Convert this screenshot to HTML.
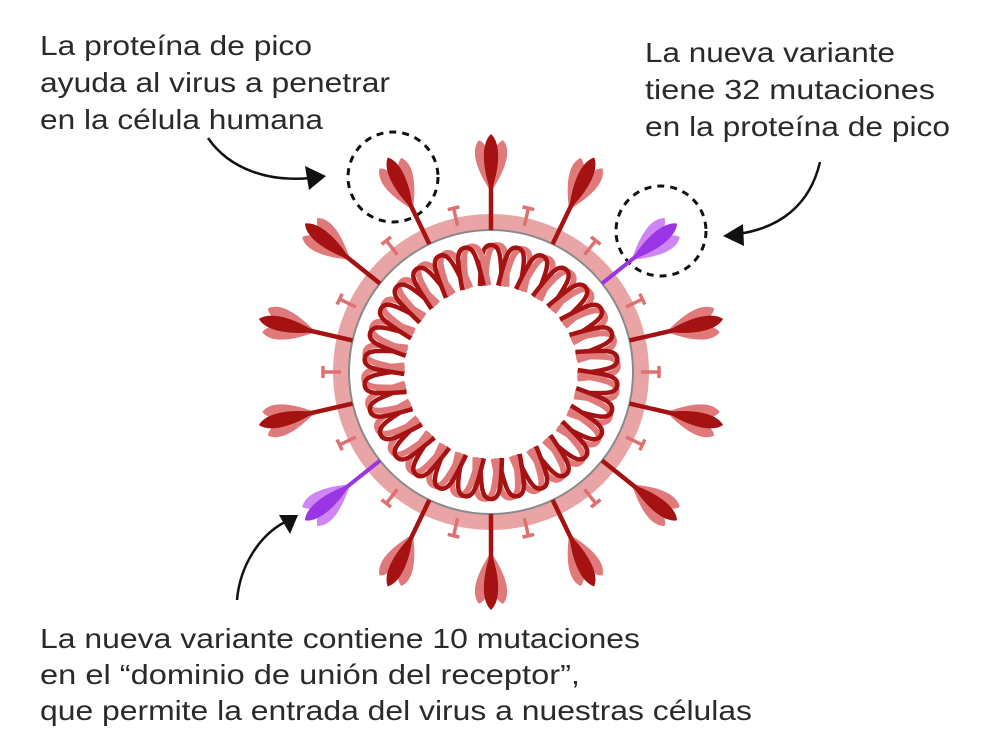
<!DOCTYPE html>
<html><head><meta charset="utf-8"><style>
html,body{margin:0;padding:0;background:#fff;}
svg{display:block;}
text{font-family:"Liberation Sans",sans-serif;font-size:28px;fill:#2a2a2a;}
</style></head><body>
<svg width="992" height="744" viewBox="0 0 992 744" xmlns="http://www.w3.org/2000/svg">
<defs>
<g id="spike">
  <path d="M0,-180 C8,-198 16,-222 4,-233 C-6,-228 -9,-200 0,-180 Z" fill="#e07a7a" transform="rotate(9 0 -180)"/>
  <path d="M0,-180 C-8,-198 -16,-222 -4,-233 C6,-228 9,-200 0,-180 Z" fill="#e07a7a" transform="rotate(-9 0 -180)"/>
  <line x1="0" y1="-142" x2="0" y2="-190" stroke="#a51212" stroke-width="4.5"/>
  <path d="M0,-180 C8,-202 11,-228 0,-238 C-11,-228 -8,-202 0,-180 Z" fill="#a51212"/>
</g>
<g id="pspike">
  <path d="M0,-180 C8,-198 16,-222 4,-233 C-6,-228 -9,-200 0,-180 Z" fill="#cf85f2" transform="rotate(9 0 -180)"/>
  <path d="M0,-180 C-8,-198 -16,-222 -4,-233 C6,-228 9,-200 0,-180 Z" fill="#cf85f2" transform="rotate(-9 0 -180)"/>
  <line x1="0" y1="-142" x2="0" y2="-190" stroke="#9a35e6" stroke-width="4"/>
  <path d="M0,-180 C8,-202 11,-228 0,-238 C-11,-228 -8,-202 0,-180 Z" fill="#9a35e6"/>
</g>
<g id="teth">
  <line x1="0" y1="-150" x2="0" y2="-168" stroke="#de7070" stroke-width="3.5"/>
  <line x1="-6" y1="-168" x2="6" y2="-168" stroke="#de7070" stroke-width="3.5"/>
</g>
<g id="coil">
  <path d="M-11,-86 C-10,-112 -10,-127 0,-127 C10,-127 10,-112 11,-86" fill="none" stroke="#e07a7a" stroke-width="6" transform="rotate(3)"/>
  <path d="M-11,-86 C-10,-112 -10,-127 0,-127 C10,-127 10,-112 11,-86" fill="none" stroke="#a51212" stroke-width="4.5"/>
</g>
</defs>

<g lengthAdjust="spacingAndGlyphs">
<text x="40" y="55" textLength="272" lengthAdjust="spacingAndGlyphs">La proteína de pico</text>
<text x="40" y="92" textLength="350" lengthAdjust="spacingAndGlyphs">ayuda al virus a penetrar</text>
<text x="40" y="129" textLength="283" lengthAdjust="spacingAndGlyphs">en la célula humana</text>

<text x="645" y="62" textLength="250" lengthAdjust="spacingAndGlyphs">La nueva variante</text>
<text x="645" y="99" textLength="290" lengthAdjust="spacingAndGlyphs">tiene 32 mutaciones</text>
<text x="645" y="136" textLength="305" lengthAdjust="spacingAndGlyphs">en la proteína de pico</text>

<text x="40" y="648" textLength="600" lengthAdjust="spacingAndGlyphs">La nueva variante contiene 10 mutaciones</text>
<text x="40" y="684" textLength="540" lengthAdjust="spacingAndGlyphs">en el “dominio de unión del receptor”,</text>
<text x="40" y="720" textLength="712" lengthAdjust="spacingAndGlyphs">que permite la entrada del virus a nuestras células</text>
</g>

<!-- arrows -->
<path d="M208,138 C230,170 270,182 310,178" fill="none" stroke="#111" stroke-width="2.5"/>
<path d="M326,176 L305,166 L309,190 Z" fill="#111"/>
<path d="M820,162 C810,205 780,228 738,234" fill="none" stroke="#111" stroke-width="2.5"/>
<path d="M723,236 L743,224 L744,246 Z" fill="#111"/>
<path d="M237,600 C240,565 260,535 285,522" fill="none" stroke="#111" stroke-width="2.5"/>
<path d="M298,515 L279,515 L290,534 Z" fill="#111"/>

<!-- dashed circles -->
<circle cx="393" cy="177" r="45" fill="none" stroke="#111" stroke-width="3" stroke-dasharray="7 6"/>
<circle cx="661" cy="231" r="45" fill="none" stroke="#111" stroke-width="3" stroke-dasharray="7 6"/>

<g transform="translate(491,372)">
  <circle r="150" fill="none" stroke="#e9a5a5" stroke-width="16"/>
  <circle r="142" fill="none" stroke="#8a8a8a" stroke-width="2"/>
  <use href="#teth" transform="rotate(12.86)"/><use href="#teth" transform="rotate(38.57)"/><use href="#teth" transform="rotate(64.29)"/><use href="#teth" transform="rotate(90)"/><use href="#teth" transform="rotate(115.71)"/><use href="#teth" transform="rotate(141.43)"/><use href="#teth" transform="rotate(167.14)"/><use href="#teth" transform="rotate(192.86)"/><use href="#teth" transform="rotate(218.57)"/><use href="#teth" transform="rotate(244.29)"/><use href="#teth" transform="rotate(270)"/><use href="#teth" transform="rotate(295.71)"/><use href="#teth" transform="rotate(321.43)"/><use href="#teth" transform="rotate(347.14)"/>
  <use href="#spike" transform="rotate(0)"/><use href="#spike" transform="rotate(25.71)"/><use href="#pspike" transform="rotate(51.43)"/><use href="#spike" transform="rotate(77.14)"/><use href="#spike" transform="rotate(102.86)"/><use href="#spike" transform="rotate(128.57)"/><use href="#spike" transform="rotate(154.29)"/><use href="#spike" transform="rotate(180)"/><use href="#spike" transform="rotate(205.71)"/><use href="#pspike" transform="rotate(231.43)"/><use href="#spike" transform="rotate(257.14)"/><use href="#spike" transform="rotate(282.86)"/><use href="#spike" transform="rotate(308.57)"/><use href="#spike" transform="rotate(334.29)"/>
  <use href="#coil" transform="rotate(0)"/><use href="#coil" transform="rotate(12)"/><use href="#coil" transform="rotate(24)"/><use href="#coil" transform="rotate(36)"/><use href="#coil" transform="rotate(48)"/><use href="#coil" transform="rotate(60)"/><use href="#coil" transform="rotate(72)"/><use href="#coil" transform="rotate(84)"/><use href="#coil" transform="rotate(96)"/><use href="#coil" transform="rotate(108)"/><use href="#coil" transform="rotate(120)"/><use href="#coil" transform="rotate(132)"/><use href="#coil" transform="rotate(144)"/><use href="#coil" transform="rotate(156)"/><use href="#coil" transform="rotate(168)"/><use href="#coil" transform="rotate(180)"/><use href="#coil" transform="rotate(192)"/><use href="#coil" transform="rotate(204)"/><use href="#coil" transform="rotate(216)"/><use href="#coil" transform="rotate(228)"/><use href="#coil" transform="rotate(240)"/><use href="#coil" transform="rotate(252)"/><use href="#coil" transform="rotate(264)"/><use href="#coil" transform="rotate(276)"/><use href="#coil" transform="rotate(288)"/><use href="#coil" transform="rotate(300)"/><use href="#coil" transform="rotate(312)"/><use href="#coil" transform="rotate(324)"/><use href="#coil" transform="rotate(336)"/><use href="#coil" transform="rotate(348)"/>
</g>
</svg>
</body></html>
